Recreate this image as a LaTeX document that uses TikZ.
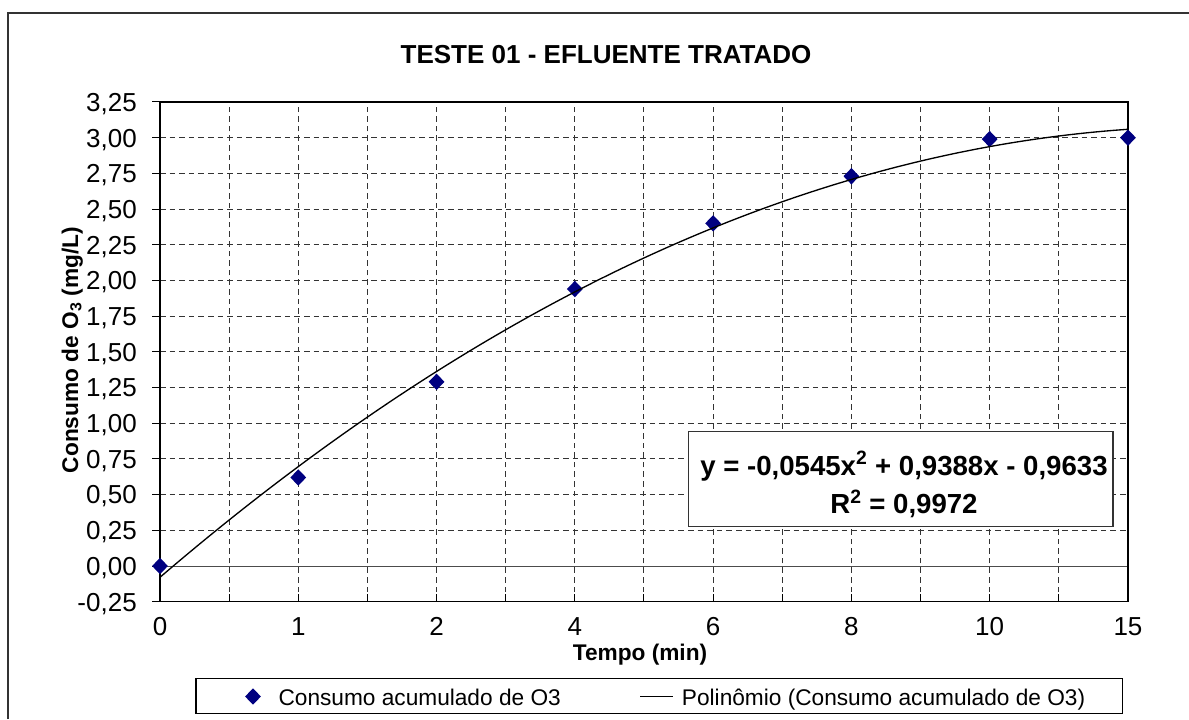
\documentclass[tikz,border=0pt]{standalone}
\usepackage{fontspec}
\setmainfont{Liberation Sans}
\usepackage{tikz}
\usetikzlibrary{shapes.geometric}
\definecolor{navyblue}{RGB}{0,0,128}

\tikzset{
  gridline/.style={draw=black!80, line width=0.75pt, dash pattern=on 4.2pt off 3pt},
  marker/.style={diamond, fill=navyblue, draw=none, inner sep=0pt, minimum width=12pt, minimum height=12.5pt},
  ticklabel/.style={font=\fontsize{19.5}{23}\selectfont, inner sep=0pt},
  axistitle/.style={font=\fontsize{17}{20}\selectfont\bfseries, inner sep=0pt},
  legendtext/.style={font=\fontsize{17}{20}\selectfont, inner sep=0pt, anchor=base west},
  eqtext/.style={font=\fontsize{20.7}{24}\selectfont\bfseries, inner sep=0pt, anchor=base},
}

\begin{document}
\begin{tikzpicture}[x=0.75pt,y=0.75pt,yscale=-1,xscale=1]
\useasboundingbox (0,0) rectangle (1189,719);

%Chart frame (runs off the page right and bottom)
\draw [line width=1.1pt, draw=black!80] (8,719) -- (8,13) -- (1189,13) ;

% Title
\node (title) [font=\fontsize{19.5}{23}\selectfont\bfseries, inner sep=0pt, anchor=base] at (606,63.3) {TESTE 01 - EFLUENTE TRATADO};

%Plot area: one unit = one category across, one mg/L up
\begin{scope}[shift={(160,566)}, x=103.71pt, y=-107.08pt]
  % grid
  \foreach \v in {0.25,0.5,...,3.01} \draw [gridline] (0,\v) -- (7,\v) ;
  \foreach \c in {0.5,1,...,6.51} \draw [gridline] (\c,-0.25) -- (\c,3.25) ;
  % zero line
  \draw [line width=0.75pt, draw=black!70] (0,0) -- (7,0) ;
  % border
  \draw [line width=1.1pt] (0,-0.25) rectangle (7,3.25) ;
  % ticks
  \foreach \v in {-0.25,0,...,3.26} \draw [line width=0.75pt] (0,\v) -- ++(-6pt,0) ;
  \foreach \c in {0,0.5,...,7.01} \draw [line width=0.75pt] (\c,-0.25) -- ++(0,-6pt) ;
  % tick labels
  \foreach \v/\lab [count=\k] in {-0.25/{-0,25},0/{0,00},0.25/{0,25},0.5/{0,50},0.75/{0,75},1/{1,00},1.25/{1,25},1.5/{1,50},1.75/{1,75},2/{2,00},2.25/{2,25},2.5/{2,50},2.75/{2,75},3/{3,00},3.25/{3,25}}
    \path (0,\v) ++(-17.25pt,7pt) node [ticklabel, anchor=base east] (ylab\k) {\lab} ;
  \foreach \lab [count=\i from 0] in {0,1,2,4,6,8,10,15}
    \path (\i,-0.25) ++(0,25pt) node [ticklabel, anchor=base] (xlab\i) {\lab} ;
  % data
  \foreach \v [count=\i from 0] in {0,0.62,1.29,1.94,2.40,2.73,2.99,3.00}
    \node [marker] (pt\i) at (\i,\v) {} ;
  % trend line, Excel index runs 1..8
  \draw [line width=1pt, domain=0:7, samples=80, smooth] plot (\x, {-0.0545*(\x+1)^2+0.9388*(\x+1)-0.9633}) ;
\end{scope}

% Axis titles
\node (ytitle) [axistitle, rotate=90, anchor=base] at (78,350) {Consumo de O\textsubscript{3} (mg/L)};
\node (xtitle) [axistitle, anchor=base] at (640,660) {Tempo (min)};

% Equation box
\draw [line width=1.1pt, draw=black!80, fill=white] (688.3,431.7) rectangle (1113,526.7) ;
\node (eq) [eqtext] at (904,475) {y = -0,0545x\textsuperscript{2} + 0,9388x - 0,9633};
\node (rsq) [eqtext] at (904,513.3) {R\textsuperscript{2} = 0,9972};

% Legend
\draw [line width=0.9pt] (196,678.3) rectangle (1122.7,713.3) ;
\node (legmark) [marker] at (253,696.5) {};
\node (legdata) [legendtext] at (278.3,705) {Consumo acumulado de O3};
\coordinate (legline) at (640,696.5);
\draw [line width=1pt] (legline) -- ++(33.3,0) ;
\node (legfit) [legendtext] at (681.7,705) {Polinômio (Consumo acumulado de O3)};

\end{tikzpicture}
\end{document}
